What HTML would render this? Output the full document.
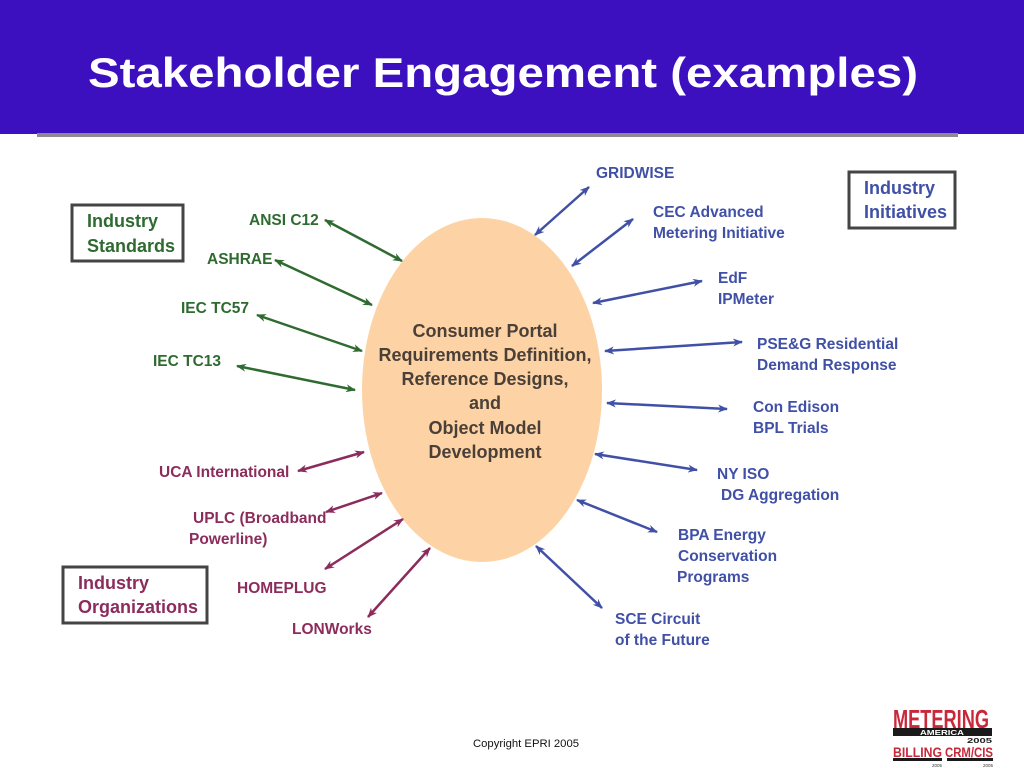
<!DOCTYPE html>
<html>
<head>
<meta charset="utf-8">
<style>
html,body{margin:0;padding:0;background:#fff;}
body{width:1024px;height:768px;overflow:hidden;}
svg{display:block;}
text{font-family:"Liberation Sans",Arial,sans-serif;}
.g{fill:#2f6b30;font-weight:bold;font-size:15.5px;}
.m{fill:#8c2c5c;font-weight:bold;font-size:15.5px;}
.b{fill:#4050a6;font-weight:bold;font-size:15.5px;}
.box{fill:none;stroke:#444;stroke-width:3;}
</style>
</head>
<body>
<svg width="1024" height="768" viewBox="0 0 1024 768" xmlns="http://www.w3.org/2000/svg">
<defs>
<marker id="ag" viewBox="0 0 10 8" refX="9" refY="4" markerWidth="10" markerHeight="8" markerUnits="userSpaceOnUse" orient="auto-start-reverse"><path d="M0,0 L10,4 L0,8 L3,4 z" fill="#2f6b30"/></marker>
<marker id="am" viewBox="0 0 10 8" refX="9" refY="4" markerWidth="10" markerHeight="8" markerUnits="userSpaceOnUse" orient="auto-start-reverse"><path d="M0,0 L10,4 L0,8 L3,4 z" fill="#8c2c5c"/></marker>
<marker id="ab" viewBox="0 0 10 8" refX="9" refY="4" markerWidth="10" markerHeight="8" markerUnits="userSpaceOnUse" orient="auto-start-reverse"><path d="M0,0 L10,4 L0,8 L3,4 z" fill="#4050a6"/></marker>
</defs>

<!-- header -->
<rect x="0" y="0" width="1024" height="134" fill="#3c10bf"/>
<rect x="37" y="133" width="921" height="4" fill="#8a8a90"/>
<text x="88" y="87" fill="#fff" font-weight="bold" font-size="42" textLength="830" lengthAdjust="spacingAndGlyphs">Stakeholder Engagement (examples)</text>

<!-- ellipse -->
<ellipse cx="482" cy="390" rx="120" ry="172" fill="#fdd3a6"/>
<g fill="#4a4038" font-weight="bold" font-size="18" text-anchor="middle">
<text x="485" y="337">Consumer Portal</text>
<text x="485" y="361">Requirements Definition,</text>
<text x="485" y="385">Reference Designs,</text>
<text x="485" y="409">and</text>
<text x="485" y="434">Object Model</text>
<text x="485" y="458">Development</text>
</g>

<!-- Industry Standards -->
<rect class="box" x="72" y="205" width="111" height="56"/>
<text x="87" y="227" fill="#2f6b30" font-weight="bold" font-size="18">Industry</text>
<text x="87" y="252" fill="#2f6b30" font-weight="bold" font-size="18">Standards</text>

<text class="g" x="249" y="225">ANSI C12</text>
<text class="g" x="207" y="264">ASHRAE</text>
<text class="g" x="181" y="313">IEC TC57</text>
<text class="g" x="153" y="366">IEC TC13</text>
<g stroke="#2f6b30" stroke-width="2.5" marker-start="url(#ag)" marker-end="url(#ag)">
<line x1="325" y1="220" x2="402" y2="261"/>
<line x1="275" y1="260" x2="372" y2="305"/>
<line x1="257" y1="315" x2="362" y2="351"/>
<line x1="237" y1="366" x2="355" y2="390"/>
</g>

<!-- Industry Organizations -->
<rect class="box" x="63" y="567" width="144" height="56"/>
<text x="78" y="589" fill="#8c2c5c" font-weight="bold" font-size="18">Industry</text>
<text x="78" y="613" fill="#8c2c5c" font-weight="bold" font-size="18">Organizations</text>

<text class="m" x="159" y="477">UCA International</text>
<text class="m" x="193" y="523">UPLC (Broadband</text>
<text class="m" x="189" y="544">Powerline)</text>
<text class="m" x="237" y="593">HOMEPLUG</text>
<text class="m" x="292" y="634">LONWorks</text>
<g stroke="#8c2c5c" stroke-width="2.5" marker-start="url(#am)" marker-end="url(#am)">
<line x1="298" y1="471" x2="364" y2="452"/>
<line x1="326" y1="512" x2="382" y2="493"/>
<line x1="325" y1="569" x2="403" y2="519"/>
<line x1="368" y1="617" x2="430" y2="548"/>
</g>

<!-- Industry Initiatives -->
<rect class="box" x="849" y="172" width="106" height="56"/>
<text x="864" y="194" fill="#4050a6" font-weight="bold" font-size="18">Industry</text>
<text x="864" y="218" fill="#4050a6" font-weight="bold" font-size="18">Initiatives</text>

<text class="b" x="596" y="178">GRIDWISE</text>
<text class="b" x="653" y="217">CEC Advanced</text>
<text class="b" x="653" y="238">Metering Initiative</text>
<text class="b" x="718" y="283">EdF</text>
<text class="b" x="718" y="304">IPMeter</text>
<text class="b" x="757" y="349">PSE&amp;G Residential</text>
<text class="b" x="757" y="370">Demand Response</text>
<text class="b" x="753" y="412">Con Edison</text>
<text class="b" x="753" y="433">BPL Trials</text>
<text class="b" x="717" y="479">NY ISO</text>
<text class="b" x="721" y="500">DG Aggregation</text>
<text class="b" x="678" y="540">BPA Energy</text>
<text class="b" x="678" y="561">Conservation</text>
<text class="b" x="677" y="582">Programs</text>
<text class="b" x="615" y="624">SCE Circuit</text>
<text class="b" x="615" y="645">of the Future</text>
<g stroke="#4050a6" stroke-width="2.5" marker-start="url(#ab)" marker-end="url(#ab)">
<line x1="535" y1="235" x2="589" y2="187"/>
<line x1="572" y1="266" x2="633" y2="219"/>
<line x1="593" y1="303" x2="702" y2="281"/>
<line x1="605" y1="351" x2="742" y2="342"/>
<line x1="607" y1="403" x2="727" y2="409"/>
<line x1="595" y1="454" x2="697" y2="470"/>
<line x1="577" y1="500" x2="657" y2="532"/>
<line x1="536" y1="546" x2="602" y2="608"/>
</g>

<!-- footer -->
<text x="473" y="747" fill="#111" font-size="11.3" textLength="106" lengthAdjust="spacingAndGlyphs">Copyright EPRI 2005</text>

<!-- logo -->
<text x="893" y="728" fill="#c8283a" font-weight="bold" font-size="26" textLength="96" lengthAdjust="spacingAndGlyphs">METERING</text>
<rect x="893" y="728" width="99" height="8" fill="#1a1a1a"/>
<text x="942" y="735" fill="#fff" font-size="7" font-weight="bold" text-anchor="middle" textLength="44" lengthAdjust="spacingAndGlyphs">AMERICA</text>
<text x="967" y="743" fill="#222" font-size="7" font-weight="bold" textLength="25" lengthAdjust="spacingAndGlyphs">2005</text>
<text x="893" y="757" fill="#c8283a" font-weight="bold" font-size="14" textLength="49" lengthAdjust="spacingAndGlyphs">BILLING</text>
<text x="945" y="757" fill="#c8283a" font-weight="bold" font-size="14" textLength="48" lengthAdjust="spacingAndGlyphs">CRM/CIS</text>
<rect x="893" y="758" width="49" height="3" fill="#1a1a1a"/>
<rect x="947" y="758" width="46" height="3" fill="#1a1a1a"/>
<text x="932" y="767" fill="#333" font-size="4.5">2005</text>
<text x="983" y="767" fill="#333" font-size="4.5">2005</text>
</svg>
</body>
</html>
